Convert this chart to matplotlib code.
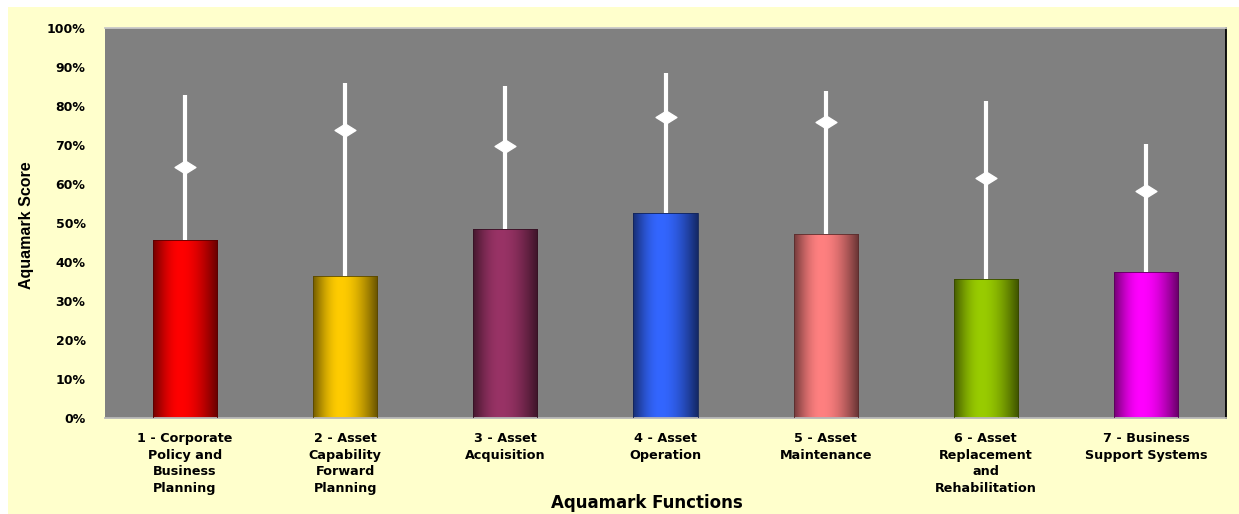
import numpy as np
import matplotlib
matplotlib.use("Agg")
import matplotlib.pyplot as plt
from matplotlib.path import Path
from matplotlib.patches import Rectangle
from matplotlib.colors import to_rgb

categories = [
    "1 - Corporate\nPolicy and\nBusiness\nPlanning",
    "2 - Asset\nCapability\nForward\nPlanning",
    "3 - Asset\nAcquisition",
    "4 - Asset\nOperation",
    "5 - Asset\nMaintenance",
    "6 - Asset\nReplacement\nand\nRehabilitation",
    "7 - Business\nSupport Systems",
]
bar_values = [45.7, 36.4, 48.5, 52.5, 47.2, 35.7, 37.4]
mean_values = [64.4, 73.8, 69.7, 77.3, 75.8, 61.5, 58.2]
max_values = [82.8, 85.8, 85.1, 88.5, 83.8, 81.3, 70.3]
bar_colors = ["#FF0000", "#FFCC00", "#993366", "#3366FF", "#FF8080", "#99CC00", "#FF00FF"]
ytick_values = list(range(0, 101, 10))
ytick_labels = [f"{v}%" for v in ytick_values]

W, H = 1239, 514
fig = plt.figure(figsize=(W / 100, H / 100), dpi=100, facecolor="white")
fig.patches.append(Rectangle((8 / W, 0), 1 - 8 / W, 1 - 7 / H, transform=fig.transFigure,
                             facecolor="#FFFFCC", edgecolor="none", zorder=-10))

ax = fig.add_axes([105 / W, 1 - 418 / H, (1226 - 105) / W, (418 - 28) / H])
ax.set_facecolor("#808080")

x = np.arange(len(categories))
width = 0.4
bars = ax.bar(x, bar_values, width=width, color="none", zorder=2)

ax.set_xlim(-0.5, len(categories) - 0.5)
ax.set_ylim(0, 100)

# gradient fill for each bar
t = np.linspace(0, 1, 200)
profile = np.where(t < 0.42, 0.45 + 0.55 * np.sin(t / 0.42 * np.pi / 2),
                   0.4 + 0.6 * np.cos((t - 0.42) / 0.58 * np.pi / 2))
for b, c in zip(bars, bar_colors):
    rgb = np.array(to_rgb(c))
    img = (profile[:, None] * rgb[None, :])[None, :, :]
    x0, y0 = b.get_x(), b.get_y()
    w, h = b.get_width(), b.get_height()
    im = ax.imshow(img, extent=[x0, x0 + w, y0, y0 + h], aspect="auto", zorder=2,
                   interpolation="bilinear")
    im.set_clip_path(b)
    ax.add_patch(Rectangle((x0, y0), w, h, facecolor="none",
                           edgecolor=tuple(rgb * 0.35), lw=0.6, zorder=3))

# range lines and diamonds
ax.vlines(x, bar_values, max_values, colors="white", lw=3.0, zorder=4)
diamond = Path([(-1, 0), (0, 0.62), (1, 0), (0, -0.62), (-1, 0)],
               [Path.MOVETO, Path.LINETO, Path.LINETO, Path.LINETO, Path.CLOSEPOLY])
ax.plot(x, mean_values, linestyle="none", marker=diamond, markersize=15,
        color="white", markeredgecolor="white", markeredgewidth=1.0, zorder=5)

ax.set_yticks(ytick_values)
ax.set_yticklabels(ytick_labels)
ax.set_yticks([20, 40, 60, 80], minor=True)
ax.grid(which="minor", axis="y", color="#C8C8C8", lw=1.3, zorder=1)
ax.set_axisbelow(True)
ax.tick_params(axis="y", which="both", length=0, pad=14)
ax.tick_params(axis="y", labelsize=9)
for lab in ax.get_yticklabels():
    lab.set_fontweight("bold")
    lab.set_family("DejaVu Sans")

ax.set_xticks(x)
ax.set_xticklabels(categories, fontsize=9.2, fontweight="bold", family="DejaVu Sans",
                   linespacing=1.38, va="top", ha="center")
ax.tick_params(axis="x", length=0, pad=10)

ax.spines["left"].set_visible(False)
ax.spines["top"].set_color("#C8C8C8")
ax.spines["top"].set_linewidth(1.3)
ax.spines["bottom"].set_color("#B8B8B8")
ax.spines["bottom"].set_linewidth(1.3)
ax.spines["right"].set_color("black")
ax.spines["right"].set_linewidth(1.3)

fig.text(27 / W, 1 - 225 / H, "Aquamark Score", rotation=90, ha="center", va="center",
         fontsize=11.5, fontweight="bold", family=["Liberation Sans Narrow", "Liberation Sans"])
fig.text(647 / W, 1 - 503 / H, "Aquamark Functions", ha="center", va="center",
         fontsize=12, fontweight="bold", family="DejaVu Sans")

fig.savefig("out.png", dpi=100, facecolor=fig.get_facecolor())
